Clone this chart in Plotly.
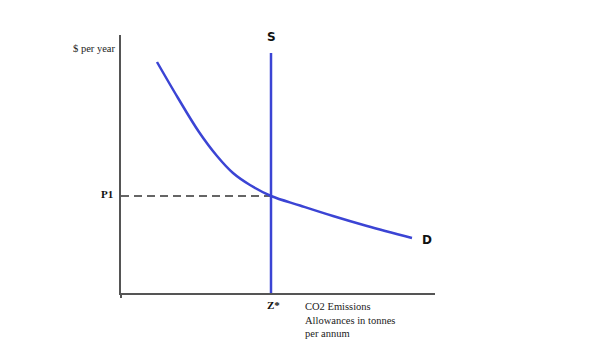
import plotly.graph_objects as go

# Demand curve (quantity, price) in chart units
demand_x = [36, 57, 78, 96, 112, 129, 150, 179, 212, 246, 291]
demand_y = [231, 195, 161, 137, 120, 108, 97, 87.5, 77, 67, 55]

# Fixed supply
supply_q = 150
supply_top = 240
price_p1 = 97

x_max = 314
y_max = 258

blue = "#3b44d4"
axis_col = "#555555"
serif = "Liberation Serif, Times New Roman, serif"
sans = "DejaVu Sans, Arial, sans-serif"

fig = go.Figure()

fig.add_trace(go.Scatter(
    x=[0, supply_q], y=[price_p1, price_p1], mode="lines",
    line=dict(color="#333333", width=1.3, dash="8px,5px"), hoverinfo="skip"))

fig.add_trace(go.Scatter(
    x=demand_x, y=demand_y, mode="lines",
    line=dict(color=blue, width=2.5, shape="spline", smoothing=1.0), hoverinfo="skip"))

fig.add_trace(go.Scatter(
    x=[supply_q, supply_q], y=[0, supply_top], mode="lines",
    line=dict(color=blue, width=2.5), hoverinfo="skip"))

annotations = [
    dict(x=0, y=y_max - 13, xref="x", yref="y", text="$ per year", showarrow=False,
         xanchor="right", yanchor="middle", xshift=-4,
         font=dict(family=serif, size=10.5, color="#222")),
    dict(x=0, y=price_p1 + 2, xref="x", yref="y", text="<b>P1</b>", showarrow=False,
         xanchor="right", yanchor="middle", xshift=-6,
         font=dict(family=serif, size=11, color="#111")),
    dict(x=supply_q, y=0, xref="x", yref="y", text="<b>Z*</b>", showarrow=False,
         xanchor="center", yanchor="middle", yshift=-12, xshift=2,
         font=dict(family=serif, size=11, color="#111")),
    dict(x=supply_q, y=supply_top, xref="x", yref="y", text="<b>S</b>", showarrow=False,
         xanchor="center", yanchor="middle", yshift=16,
         font=dict(family=sans, size=12, color="#111")),
    dict(x=demand_x[-1], y=demand_y[-1], xref="x", yref="y", text="<b>D</b>", showarrow=False,
         xanchor="left", yanchor="middle", xshift=8, yshift=-2,
         font=dict(family=sans, size=12, color="#111")),
    dict(x=182, y=0, xref="x", yref="y",
         text="CO2 Emissions<br>Allowances in tonnes<br>per annum", showarrow=False,
         xanchor="left", yanchor="top", yshift=-6, align="left",
         font=dict(family=serif, size=10.5, color="#222")),
]

fig.update_layout(
    width=606, height=342,
    margin=dict(l=121, r=171, t=35, b=49),
    paper_bgcolor="white", plot_bgcolor="white",
    showlegend=False,
    annotations=annotations,
    xaxis=dict(range=[0, x_max], showgrid=False, zeroline=False, showline=True,
               linecolor=axis_col, linewidth=1.5, tickvals=[0], ticks="outside",
               ticklen=3, tickcolor=axis_col, tickwidth=1.5, showticklabels=False,
               fixedrange=True),
    yaxis=dict(range=[0, y_max], showgrid=False, zeroline=False, showline=True,
               linecolor=axis_col, linewidth=1.5, showticklabels=False, ticks="",
               fixedrange=True),
)

fig.write_html("out.html")
